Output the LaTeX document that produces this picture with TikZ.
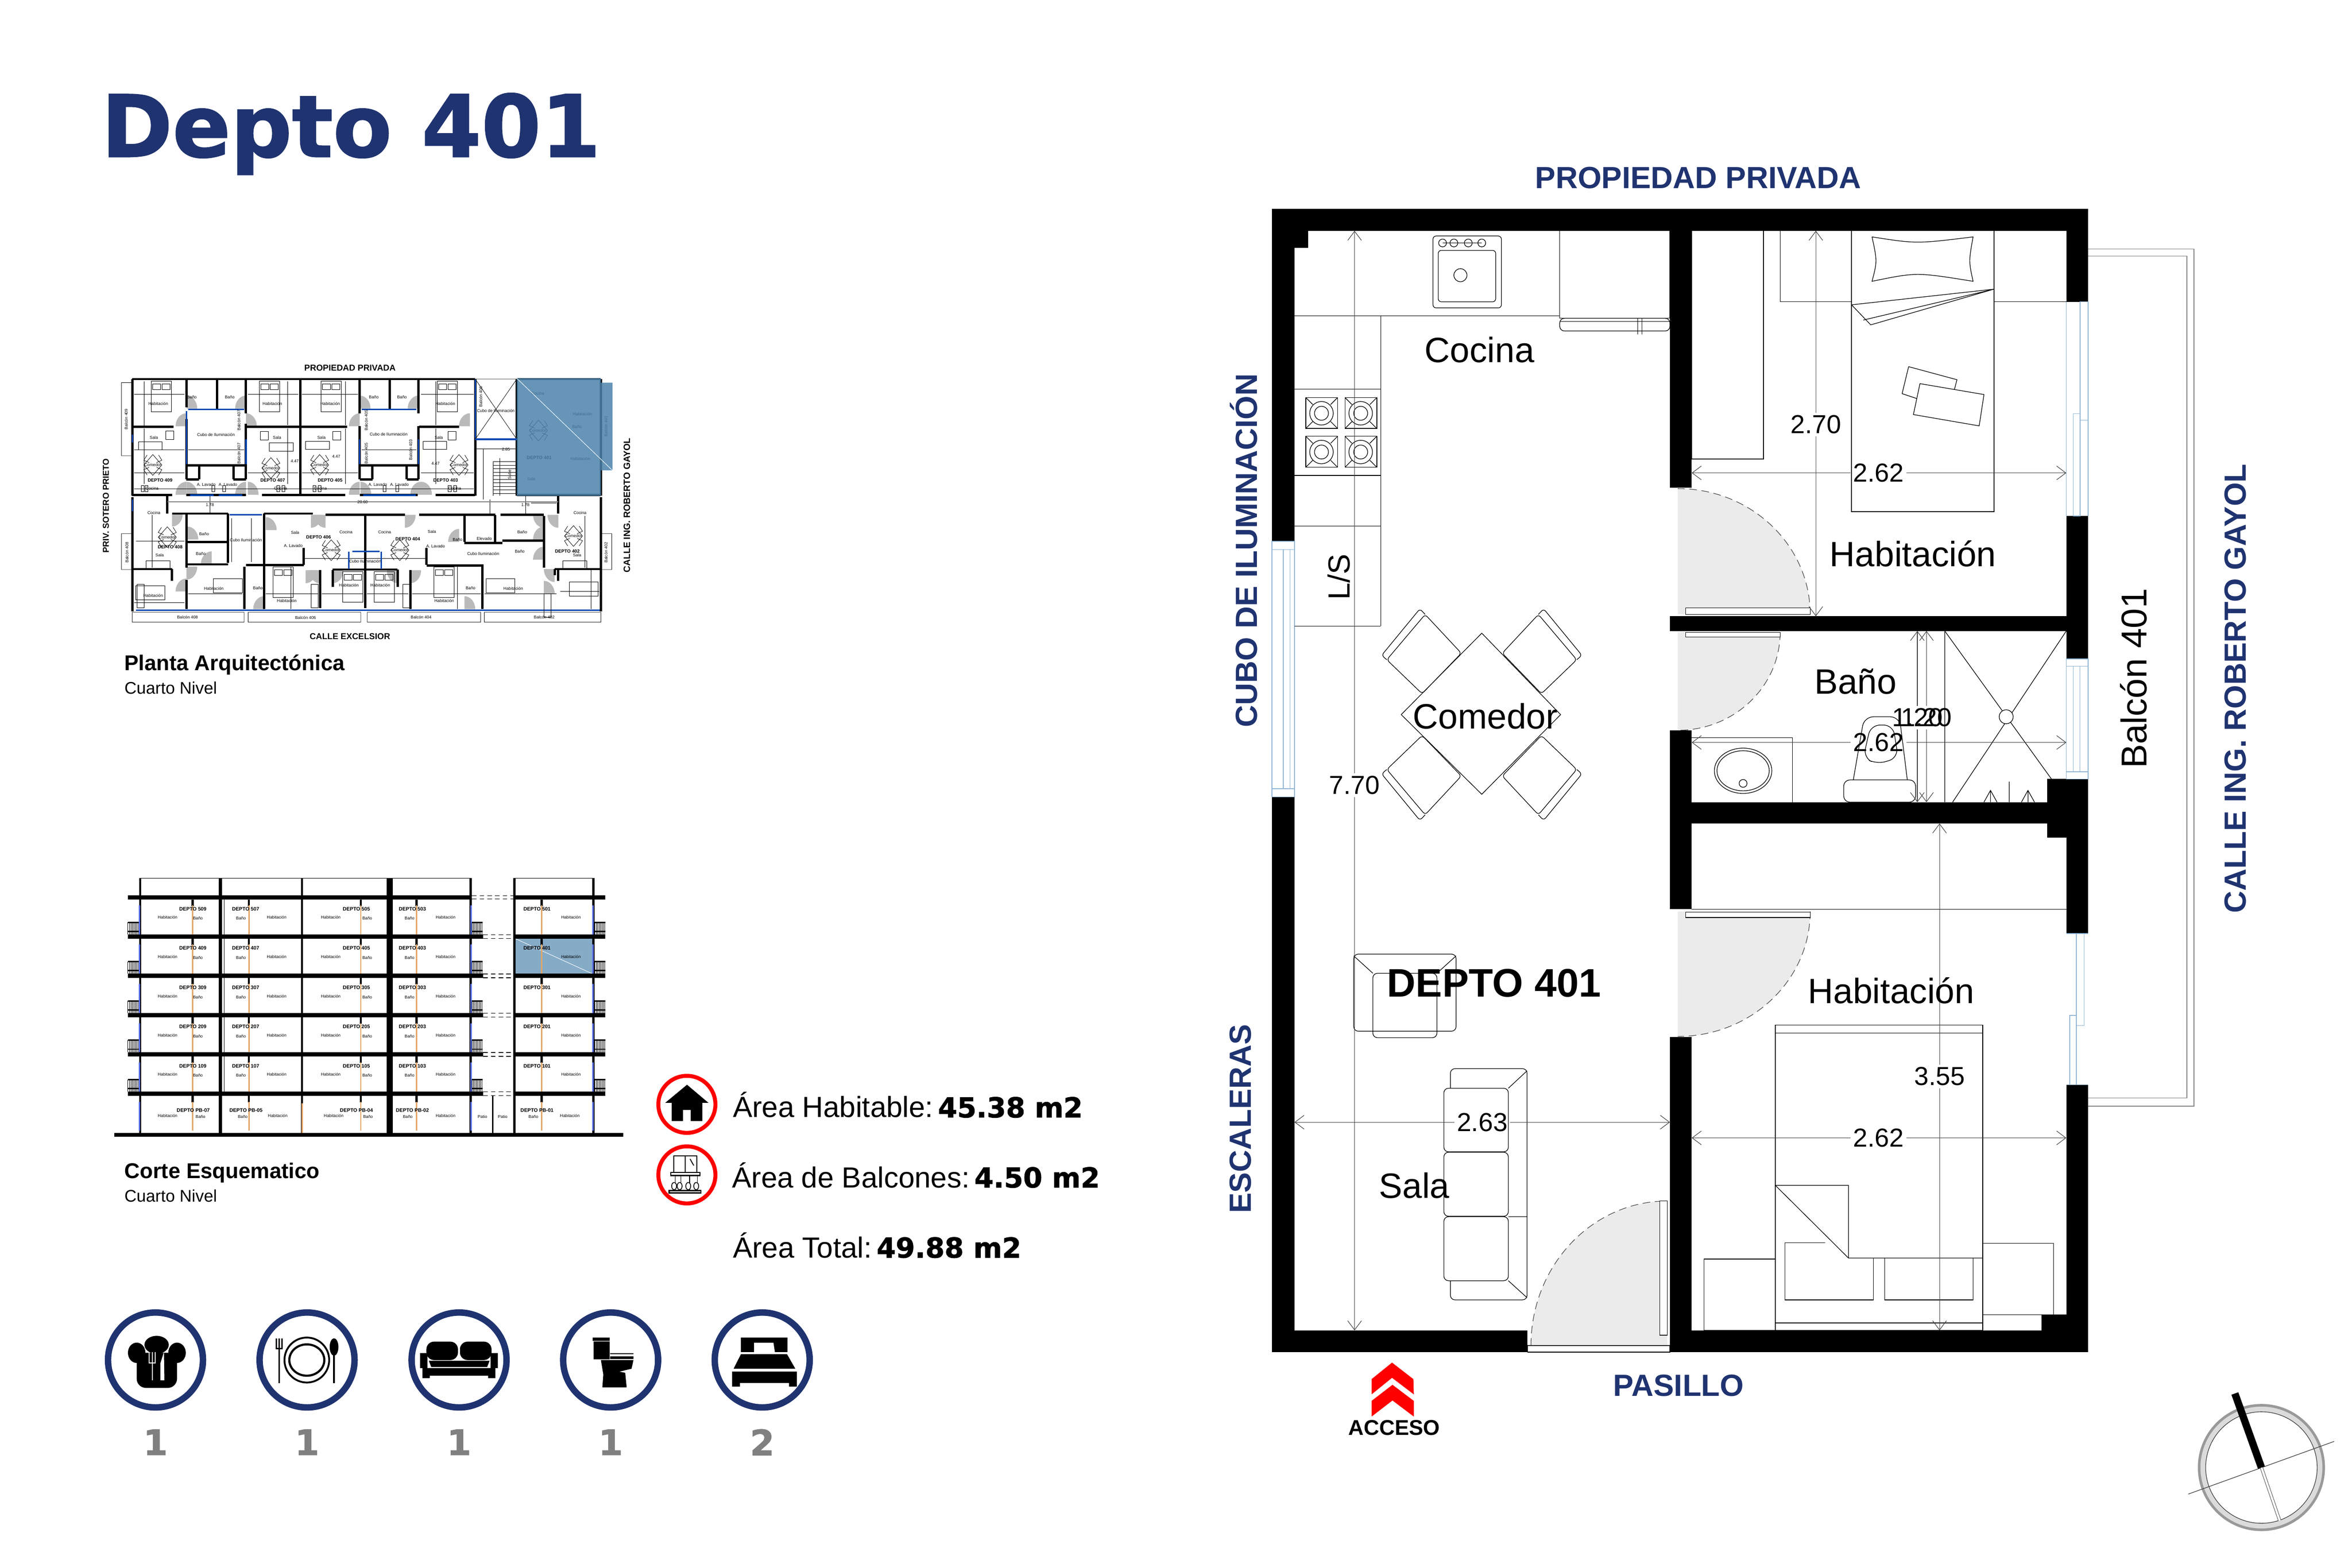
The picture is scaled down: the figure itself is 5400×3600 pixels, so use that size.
\documentclass[tikz,border=0pt]{standalone}
\usepackage{fontspec}
\setmainfont{Liberation Sans}
\newfontfamily\widefont[BoldFeatures={FakeBold=1.4}]{DejaVu Sans}
\usetikzlibrary{arrows.meta}
\definecolor{navy}{HTML}{1F3370}
\definecolor{glass}{HTML}{8DB4D6}
\definecolor{unitblue}{HTML}{4C83AB}
\tikzset{
  wall/.style={fill=black,draw=none},
  ln/.style={draw=black,line width=.4pt},
  win/.style={draw=glass,line width=.5pt,fill=white},
  swingfill/.style={fill=black!8,draw=none},
  swingarc/.style={draw=black!70,line width=.4pt,dash pattern=on 5pt off 3pt},
  dimline/.style={draw=black!75,line width=.35pt,>={Straight Barb[length=6pt,width=9pt]}},
  dimtxt/.style={font=\fontsize{17}{17}\selectfont,inner sep=1.5pt},
  roomtxt/.style={font=\fontsize{23}{23}\selectfont,inner sep=0pt},
  sidetxt/.style={font=\fontsize{20}{20}\selectfont\bfseries,text=navy,inner sep=0pt},
  areatxt/.style={font=\fontsize{19}{19}\selectfont,anchor=base west,inner sep=0pt},
  headtxt/.style={font=\fontsize{14}{14}\selectfont\bfseries,anchor=base west,inner sep=0pt},
  subtxt/.style={font=\fontsize{11}{11}\selectfont,anchor=base west,inner sep=0pt},
  minitxt/.style={font=\fontsize{2.7}{3}\selectfont,inner sep=0pt},
  minibold/.style={font=\fontsize{3.3}{4}\selectfont\bfseries,inner sep=0pt},
  miniside/.style={font=\fontsize{5.6}{6}\selectfont\bfseries,inner sep=0pt},
  miniwall/.style={draw=black,line width=1.5pt},
  miniglass/.style={draw=blue!60!cyan!70!black,line width=1pt},
  minifine/.style={draw=black,line width=.25pt},
  ring/.style={draw=navy,line width=4.2pt,fill=white},
  redring/.style={draw=red,line width=2.6pt,fill=white},
  countnum/.style={font=\widefont\fontsize{23}{23}\selectfont\bfseries,text=black!50,inner sep=0pt}
}
% dimension lines: name, from, to, fixed, label place, text
\newcommand\dimh[6]{\coordinate (#1a) at (#2,#4); \coordinate (#1b) at (#3,#4);
  \node[dimtxt] (#1) at (#5,#4) {#6};
  \draw[dimline,<-] (#1a)--(#1); \draw[dimline,->] (#1)--(#1b);}
\newcommand\dimv[6]{\coordinate (#1a) at (#4,#2); \coordinate (#1b) at (#4,#3);
  \node[dimtxt] (#1) at (#4,#5) {#6};
  \draw[dimline,<-] (#1a)--(#1); \draw[dimline,->] (#1)--(#1b);}
% door swing: hinge x, y, start angle, end angle, x radius, y radius
\newcommand\swing[6]{\fill[swingfill] (#1,#2)--++(#3:#5 and #6) arc[start angle=#3,end angle=#4,x radius=#5,y radius=#6]--cycle;
  \draw[swingarc] (#1,#2)++(#3:#5 and #6) arc[start angle=#3,end angle=#4,x radius=#5,y radius=#6];}
\newcommand\bignum[1]{\kern-4pt{\widefont\bfseries\fontsize{18}{18}\selectfont #1}}
\begin{document}
\begin{tikzpicture}[x=0.1mm,y=-0.1mm]
\useasboundingbox (0,0) rectangle (5400,3600);
\node[font=\widefont\fontsize{56}{56}\selectfont\bfseries,text=navy,anchor=base west,inner sep=0pt] (title) at (232,360) {Depto 401};

% --- floor plan: balcony
\draw[draw=black!50,line width=.4pt] (4794,572)--(5037,572)--(5037,2540)--(4794,2540)
  (4794,588)--(5021,588)--(5021,2521)--(4794,2521);
% door swings
\swing{3852}{1411}{0}{-90}{304}{289}
\swing{3852}{1452}{0}{90}{235}{225}
\swing{3852}{2093}{0}{90}{304}{287}
\swing{3828}{3090}{180}{270}{313}{332}
% outer and inner walls
\foreach \xa/\ya/\xb/\yb in {2920/480/4794/530, 2920/530/2972/1243, 2920/1830/2972/3105, 2972/530/3003/569,
  2920/3055/3507/3105, 3834/3055/4794/3105, 3834/530/3884/1120, 3834/1415/4744/1449, 3834/1677/3884/1891,
  3834/1842/4794/1891, 3834/1891/3884/2088, 3834/2381/3884/3055, 4744/530/4794/693, 4744/1185/4794/1513,
  4700/1789/4794/1842, 4700/1891/4794/1923, 4744/1923/4794/2144, 4744/2491/4794/3055, 4687/3019/4744/3055}
  \fill[wall] (\xa,\ya) rectangle (\xb,\yb);
% windows
\draw[win] (2920,1243) rectangle (2972,1830) (2920,1243) rectangle (2972,1262) (2920,1811) rectangle (2972,1830)
  (2946,1262)--(2946,1811) (2962,1262)--(2962,1811);
\draw[win] (4776,693) rectangle (4794,965) (4760,950) rectangle (4776,1185) (4744,693)--(4744,1185)
  (4794,965)--(4794,1185);
\draw[win] (4744,1513) rectangle (4794,1789) (4744,1513) rectangle (4794,1530) (4744,1772) rectangle (4794,1789)
  (4760,1530)--(4760,1772) (4775,1530)--(4775,1772);
\draw[win] (4767,2144) rectangle (4785,2355) (4752,2332) rectangle (4767,2491) (4744,2144)--(4794,2144) (4744,2491)--(4794,2491);
% door leaves
\draw[ln,fill=white] (3870,1396) rectangle (4156,1411) (3870,1452) rectangle (4087,1463) (3870,2095) rectangle (4156,2107)
  (3811,2758) rectangle (3828,3066) (3507,3090) rectangle (3834,3105);
% kitchen
\draw[ln] (2972,725)--(3581,725) (3170,725)--(3170,1438) (2972,894)--(3170,894) (2972,1092)--(3170,1092)
  (2972,1208)--(3170,1208) (2972,1438)--(3170,1438);
\draw[ln] (3581,530) rectangle (3834,731);
\draw[ln,rounded corners=3pt] (3581,731) rectangle (3834,760);
\draw[ln] (3581,738)--(3834,738) (3760,731)--(3760,768) (3770,731)--(3770,768);
\draw[ln,rounded corners=2pt] (3290,542) rectangle (3447,707) (3302,575) rectangle (3434,693);
\draw[ln] (3353,632) circle (15);
\foreach \x in {3312,3338,3371,3402} \draw[ln] (\x,558) circle (9);
\draw[ln] (3312,558)--(3402,558);
\foreach \x in {2998,3088} \foreach \y in {913,1002}{
  \draw[ln] (\x,\y) rectangle ++(73,71);
  \draw[ln] (\x+36,\y+36) circle (27) (\x+36,\y+36) circle (16);
  \draw[ln] (\x,\y)--++(16,16) (\x+73,\y)--++(-16,16) (\x,\y+71)--++(16,-16) (\x+73,\y+71)--++(-16,-16);
}
% dining table and chairs
\draw[ln] (3402,1454)--(3583,1641)--(3402,1824)--(3217,1641)--cycle;
\foreach \sx in {1,-1} \foreach \sy in {1,-1}
  \draw[ln,rounded corners=2pt,shift={(3402,1641)},xscale=\sx,yscale=\sy]
   (47,141)--(130,230)--(218,126)--(137,48)--cycle (130,230)--(142,243)--(230,136)--(218,126);
% armchair and sofa
\draw[ln,rounded corners=3pt] (3108,2191) rectangle (3343,2368) (3152,2235) rectangle (3299,2383);
\draw[ln] (3108,2195)--(3152,2235) (3343,2195)--(3299,2235);
\draw[ln,rounded corners=3pt] (3330,2454) rectangle (3506,2985);
\draw[ln,rounded corners=3pt,fill=white] (3315,2499) rectangle (3463,2645) (3315,2646) rectangle (3463,2793) (3315,2794) rectangle (3463,2941);
\draw[ln] (3506,2459)--(3463,2499) (3506,2980)--(3463,2941) (3463,2794)--(3506,2794);
% upper bedroom
\draw[ln] (3884,530) rectangle (4049,1054) (4251,530) rectangle (4578,1175) (4087,530)--(4087,693)--(4251,693) (4578,693)--(4744,693);
\draw[ln] (4298,544) .. controls (4400,560) .. (4530,544) .. controls (4520,600) .. (4530,646) .. controls (4400,625) .. (4298,646) .. controls (4310,600) .. (4298,544);
\draw[ln] (4578,664)--(4251,700)--(4295,746)--cycle (4278,735)--(4578,664);
\draw[ln] (4382,842)--(4493,872)--(4487,895) (4382,842)--(4367,904)--(4400,915);
\draw[ln] (4408,881)--(4555,906)--(4544,978)--(4393,952)--cycle;
% bath
\draw[ln] (3884,1694)--(4115,1694)--(4115,1842);
\draw[ln] (4002,1770) ellipse (66 and 52) (4002,1770) ellipse (60 and 46) (4002,1799) circle (9);
\draw[ln,rounded corners=4pt] (4233,1842) rectangle (4398,1791);
\draw[ln,rounded corners=6pt] (4255,1791)--(4280,1646)--(4361,1646)--(4379,1791);
\draw[ln,rounded corners=6pt] (4295,1665)--(4346,1665)--(4358,1740)--(4310,1755)--(4278,1740)--cycle;
\draw[ln] (4465,1449)--(4465,1842) (4465,1449)--(4710,1789) (4744,1449)--(4483,1842);
\draw[ln,fill=white] (4606,1646) circle (16);
\draw[ln] (4613,1842)--(4613,1795) (4570,1842)--(4570,1815) (4656,1842)--(4656,1815) (4555,1842)--(4570,1815)--(4585,1842) (4641,1842)--(4656,1815)--(4671,1842);
% lower bedroom
\draw[ln] (3884,2088)--(4744,2088);
\draw[ln] (4076,2354) rectangle (4552,3055) (4076,2372)--(4552,2372) (4076,3038)--(4552,3038);
\draw[ln] (4076,2722)--(4244,2722)--(4244,2889)--(4552,2889) (4076,2722)--(4244,2889);
\draw[ln] (4098,2854)--(4190,2854) (4098,2854)--(4098,2985)--(4301,2985)--(4301,2889) (4327,2889)--(4327,2985)--(4530,2985)--(4530,2889);
\draw[ln] (3912,2891) rectangle (4076,3055) (4552,2855) rectangle (4715,3019) (4552,3019)--(4552,3055);
% dimensions
\dimv{dimA}{530}{3055}{3110}{1803}{7.70}
\dimv{dimB}{530}{1415}{4169}{975}{2.70}
\dimh{dimC}{3884}{4744}{1086}{4313}{2.62}
\dimv{dimD}{1449}{1842}{4402}{1648}{1.20}
\dimv{dimE}{1449}{1842}{4423}{1648}{1.20}
\dimh{dimF}{3884}{4744}{1705}{4313}{2.62}
\dimh{dimG}{2972}{3834}{2577}{3403}{2.63}
\dimv{dimH}{1891}{3055}{4453}{2472}{3.55}
\dimh{dimI}{3884}{4744}{2613}{4313}{2.62}
% room names
\node[roomtxt] (cocina) at (3397,803) {Cocina};
\node[roomtxt] (hab1) at (4392,1272) {Habitación};
\node[roomtxt] (bano) at (4260,1565) {Baño};
\node[roomtxt] (comedor) at (3410,1645) {Comedor};
\node[roomtxt,font=\fontsize{20}{20}\selectfont,rotate=90] (ls) at (3074,1325) {L/S};
\node[roomtxt,font=\fontsize{23.5}{24}\selectfont,rotate=90] (balcon) at (4898,1558) {Balcón 401};
\node[roomtxt,font=\fontsize{26}{26}\selectfont\bfseries] (depto) at (3430,2258) {DEPTO 401};
\node[roomtxt] (hab2) at (4342,2275) {Habitación};
\node[roomtxt] (sala) at (3247,2722) {Sala};
% surroundings
\node[sidetxt] (prop) at (3899,408) {PROPIEDAD PRIVADA};
\node[sidetxt] (pasillo) at (3854,3182) {PASILLO};
\node[sidetxt,rotate=90] (cubo) at (2855,1264) {CUBO DE ILUMINACIÓN};
\node[sidetxt,rotate=90] (esc) at (2848,2569) {ESCALERAS};
\node[sidetxt,rotate=90] (gayol) at (5132,1581) {CALLE ING. ROBERTO GAYOL};
\fill[red] (3149,3167)--(3196,3129)--(3245,3167)--(3246,3202)--(3196,3164)--(3149,3202)--cycle
  (3149,3217)--(3197,3180)--(3246,3217)--(3246,3253)--(3197,3216)--(3149,3253)--cycle;
\node[font=\fontsize{14}{14}\selectfont\bfseries,inner sep=0pt] (acceso) at (3201,3279) {ACCESO};
% north mark
\coordinate (nc) at (5192,3370); \coordinate (ntop) at (5131,3200); \coordinate (nbot) at (5234,3492);
\coordinate (na) at (5024,3431); \coordinate (nb) at (5359,3310);
\draw[draw=black!40,line width=1.7pt,fill=black!14] (nc) circle (143);
\draw[draw=black!75,line width=.4pt,fill=white] (nc) circle (128);
\draw[draw=black!75,line width=.4pt] (na)--(nb);
\draw[draw=black!75,line width=2pt] (nc)--(nbot);
\draw[draw=white,line width=1.4pt] (nc)--(nbot);
\draw[line width=4.8pt] (ntop)--(nc);

% --- small plan of the level
\begin{scope}[shift={(200,800)},xscale=.829,yscale=.542]
\draw[minifine] (95,145) rectangle (125,455) (95,785) rectangle (125,937) (1423,785) rectangle (1453,937)
  (125,1118) rectangle (435,1160) (446,1118) rectangle (758,1160) (776,1118) rectangle (1090,1160) (1100,1118) rectangle (1423,1160)
  (1075,130) rectangle (1190,385) (1075,130)--(1190,385) (1190,130)--(1075,385);
% door swings
\foreach \x/\y/\a in {275/330/180,440/330/270,755/330/180,1060/330/180,275/255/270,440/255/180,755/255/270,918/255/180,
  275/620/180,275/620/270,440/620/180,445/620/270,755/620/180,757/620/270,925/620/180,925/620/270,
  235/700/0,278/810/270,345/915/180,275/925/0,275/1030/180,490/1105/180,495/770/270,620/705/0,645/940/90,
  660/705/90,880/705/0,680/940/0,860/940/90,895/940/0,1030/820/180,1045/1105/270,1265/810/180,1265/895/180,
  1265/705/90,1305/705/90,1265/1040/270,1295/935/90,605/940/0}
  \fill[black!27] (\x,\y)--++(\a:30 and 55) arc[start angle=\a,delta angle=90,x radius=30,y radius=55]--cycle;
% stairs
\foreach \y in {480,495,...,620} \draw[minifine] (1125,\y)--(1190,\y);
\draw[minifine] (1125,478)--(1125,625) (1143,465)--(1143,625) (1075,425)--(1190,425) (1097,425)--(1097,640) (1115,640)--(1115,700);
% fine dimension lines
\draw[minifine] (130,195)--(270,195) (445,195)--(585,195) (595,195)--(750,195) (925,195)--(1070,195) (130,430)--(270,430) (130,528)--(270,528)
  (445,528)--(585,528) (595,528)--(750,528) (925,528)--(1070,528) (130,595)--(1070,595) (280,430)--(435,430) (760,430)--(912,430)
  (158,140)--(158,330) (158,340)--(158,575) (555,140)--(555,325) (555,340)--(555,575) (715,140)--(715,325) (715,340)--(715,575) (965,140)--(965,325) (965,340)--(965,575)
  (340,620)--(340,700) (1214,620)--(1214,700) (1115,640)--(1115,705) (135,817)--(270,817) (130,1078)--(270,1078) (280,1040)--(430,1040) (495,1040)--(640,1040)
  (650,1040)--(765,1040) (775,1040)--(890,1040) (900,1040)--(1090,1040) (1100,1040)--(1300,1040) (1310,1030)--(1418,1030) (180,705)--(180,930) (1378,710)--(1378,930)
  (400,720)--(400,905) (455,720)--(455,905) (565,925)--(565,1105) (1025,925)--(1025,1105) (1395,940)--(1395,1105) (600,890)--(940,890) (1230,655)--(1300,655);
% walls
\draw[miniwall]
  (125,130)--(1075,130) (125,130)--(125,625) (275,130)--(275,250) (275,300)--(275,555) (360,130)--(360,255) (440,130)--(440,275) (440,320)--(440,555)
  (590,130)--(590,622) (755,130)--(755,275) (755,330)--(755,555) (838,130)--(838,255) (918,130)--(918,275) (918,330)--(918,555) (1075,130)--(1075,625)
  (1190,130)--(1190,625) (1423,130)--(1423,625) (1190,130)--(1423,130) (1190,622)--(1423,622)
  (125,333)--(240,333) (440,333)--(720,333) (920,333)--(1030,333) (275,495)--(440,495) (755,495)--(918,495)
  (310,495)--(310,555) (275,555)--(310,555) (405,495)--(405,555) (405,555)--(440,555) (755,555)--(790,555) (790,495)--(790,555) (885,495)--(885,555) (885,555)--(918,555)
  (125,622)--(235,622) (275,622)--(440,622) (485,622)--(715,622) (755,622)--(915,622) (965,622)--(1075,622)
  (125,630)--(125,1115) (1423,630)--(1423,1115) (222,625)--(222,700) (1305,625)--(1305,700)
  (235,700)--(390,700) (490,700)--(625,700) (660,705)--(880,705) (920,705)--(1130,705) (1145,705)--(1265,705)
  (275,700)--(275,930) (390,700)--(390,910) (490,700)--(490,1105) (770,705)--(770,1100) (1045,705)--(1045,820) (1130,705)--(1130,825) (1265,710)--(1265,930)
  (275,820)--(390,820) (125,935)--(235,935) (275,915)--(390,915) (440,918)--(600,918) (680,937)--(860,937) (940,920)--(1095,920) (1045,825)--(1150,825)
  (1150,815)--(1265,815) (1295,935)--(1423,935) (600,845)--(600,918) (940,845)--(940,918) (1095,915)--(1095,1105) (1305,935)--(1305,985) (1295,935)--(1295,960)
  (235,935)--(235,985) (275,980)--(275,1105) (435,925)--(435,1105) (680,940)--(680,1010) (860,937)--(860,1010) (895,940)--(895,1105) (645,940)--(645,1100);
\draw[miniglass] (280,258)--(360,258) (360,258)--(435,258) (760,258)--(912,258) (285,622)--(350,622) (365,622)--(430,622) (765,622)--(910,622)
  (125,365)--(125,400) (125,640)--(125,690) (395,705)--(485,705) (135,1110)--(1420,1110) (275,265)--(275,490) (440,385)--(440,490) (755,385)--(755,490) (918,385)--(918,490)
  (735,860)--(810,860) (725,862)--(725,935) (815,862)--(815,935) (1075,385)--(1190,385) (1075,133)--(1075,380);
\draw[miniwall,draw=black!50,line width=.5pt] (222,650)--(1305,650);
% furniture
\foreach \x/\y in {182/494,509/507,644/494,1030/494,222/800,676/855,866/855,1347/795,1250/348}{
  \draw[minifine] (\x,\y-44)--(\x+25,\y)--(\x,\y+44)--(\x-25,\y)--cycle;
  \draw[minifine] (\x-16,\y-42)--(\x-25,\y-20)--(\x-10,\y-10) (\x+16,\y-42)--(\x+25,\y-20)--(\x+10,\y-10)
    (\x-16,\y+42)--(\x-25,\y+20)--(\x-10,\y+10) (\x+16,\y+42)--(\x+25,\y+20)--(\x+10,\y+10);
}
\foreach \x/\y in {177/138,477/138,648/138,970/138,515/925,708/945,795/945,960/925}
  \draw[minifine] (\x,\y) rectangle ++(56,130) (\x+4,\y+12) rectangle ++(22,25) (\x+30,\y+12) rectangle ++(22,25);
\foreach \x/\y in {350/975,1105/975,1335/990,135/1005}
  \draw[minifine] (\x,\y) rectangle ++(80,60);
\foreach \x/\y in {142/395,505/400,605/393,930/393,1318/900,163/900}
  \draw[minifine] (\x,\y) rectangle ++(66,35);
\foreach \x/\y in {218/350,480/352,680/352,1000/352}
  \draw[minifine] (\x,\y) rectangle ++(22,35);
\foreach \x/\y in {138/1000,620/1000,875/1000,1265/1040}
  \draw[minifine] (\x,\y) rectangle ++(20,100);
\foreach \x in {150,160,525,540,625,640,1000,1015,345,375,820,855}
  \draw[minifine] (\x,582) rectangle ++(8,25);
% labels
\foreach \x/\y/\t [count=\n] in {
  197/234/Habitación,513/234/Habitación,673/234/Habitación,992/234/Habitación,183/1047/Habitación,351/1018/Habitación,
  553/1069/Habitación,725/1003/Habitación,812/1003/Habitación,989/1069/Habitación,1180/1018/Habitación,1366/468/Habitación,1372/278/Habitación,
  185/377/Sala,526/377/Sala,649/377/Sala,974/377/Sala,201/876/Sala,576/780/Sala,955/776/Sala,1357/876/Sala,1230/553/Sala,
  182/494/Comedor,509/507/Comedor,644/494/Comedor,1030/494/Comedor,222/800/Comedor,676/855/Comedor,866/855/Comedor,1347/795/Comedor,1248/348/Comedor,
  1248/190/Cocina,185/697/Cocina,717/778/Cocina,824/778/Cocina,1365/697/Cocina,180/594/Cocina,536/594/Cocina,646/594/Cocina,1018/594/Cocina,
  290/206/Baño,395/206/Baño,794/206/Baño,872/206/Baño,324/787/Baño,315/870/Baño,1205/779/Baño,1198/861/Baño,1026/811/Baño,473/1016/Baño,1062/1016/Baño,1357/333/Baño,
  357/365/Cubo de Iluminación,835/364/Cubo de Iluminación,1132/264/Cubo de Iluminación,440/813/Cubo Iluminación,770/902/Cubo Iluminación,1097/870/Cubo Iluminación,
  330/577/A. Lavado,390/577/A. Lavado,805/577/A. Lavado,865/577/A. Lavado,571/837/A. Lavado,965/839/A. Lavado,
  278/1138/Balcón 408,605/1140/Balcón 406,925/1138/Balcón 404,1266/1138/Balcón 402,1100/806/Elevado,
  763/652/20.60,340/663/1.78,1214/663/1.78,575/477/4.47,690/458/4.47,965/488/4.47,1160/427/2.85}
  \node[minitxt] (pl\n) at (\x,\y) {\t};
\foreach \x/\y/\t [count=\n] in {108/300/Balcón 409,110/865/Balcón 408,1437/865/Balcón 402,1437/330/Balcón 401,1090/205/Balcón 406,
  420/305/Balcón 407,420/445/Balcón 407,773/305/Balcón 405,773/445/Balcón 405,896/430/Balcón 403,1170/535/Sube}
  \node[minitxt,rotate=90] (pv\n) at (\x,\y) {\t};
\foreach \x/\y/\t [count=\n] in {202/558/409,514/558/407,673/558/405,993/558/403,641/800/406,888/807/404,230/842/408,1330/860/402,1252/463/401}
  \node[minitxt,font=\fontsize{3}{3}\selectfont\bfseries] (pd\n) at (\x,\y) {DEPTO \t};
% selected unit
\fill[unitblue,fill opacity=.85] (1190,127) rectangle (1423,625) (1423,145) rectangle (1455,517);
\draw[white,line width=.3pt] (1190,127)--(1455,517);
\node[miniside] (mprop) at (728,82) {PROPIEDAD PRIVADA};
\node[miniside] (mcalle) at (728,1220) {CALLE EXCELSIOR};
\node[miniside,rotate=90] (msot) at (52,667) {PRIV. SOTERO PRIETO};
\node[miniside,rotate=90,font=\fontsize{6}{6}\selectfont\bfseries] (mgay) at (1495,665) {CALLE ING. ROBERTO GAYOL};
\end{scope}
\node[headtxt] (planta) at (285,1540) {Planta Arquitectónica};
\node[subtxt] (nivelA) at (285,1594) {Cuarto Nivel};

% --- section
\begin{scope}[shift={(200,1980)},xscale=.829,yscale=.542]
\fill[unitblue!80,fill opacity=.85] (1185,323) rectangle (1400,473);
\draw[white,line width=.3pt] (1185,323)--(1400,473);
\draw[line width=.5pt] (147,68)--(1062,68) (1183,68)--(1402,68);
\fill (75,1148) rectangle (1485,1162);
\fill (113,140) rectangle (1062,158) (1185,140) rectangle (1435,158);
\foreach \y in {315,481,648,814,981}{
  \fill (113,\y-9) rectangle (1097,\y+9) (1185,\y-9) rectangle (1435,\y+9);
  \draw[densely dashed,line width=.5pt] (1097,\y-8)--(1180,\y-8) (1097,\y+8)--(1180,\y+8);
  \foreach \x in {113,1062,1402}{
    \foreach \k in {0,4,...,32} \draw[line width=.3pt] (\x+\k,\y-60)--(\x+\k,\y-9);
    \draw[line width=.8pt] (\x,\y-60)--(\x+33,\y-60) (\x,\y-22)--(\x+33,\y-22);
  }
}
\draw[densely dashed,line width=.5pt] (1066,142)--(1180,142) (1066,156)--(1180,156);
\foreach \x/\w in {147/6,369/10,595/6,838/16,1062/6,1183/6,1402/6}
  \fill (\x-\w/2,68) rectangle (\x+\w/2,1148);
\fill (1121,990) rectangle (1126,1148);
\draw[line width=.3pt] (380,158)--(380,973);
\foreach \y in {158,324,490,657,823,990}{
  \foreach \x in {292,448,758,912,1259}{
    \fill (\x-3,\y) rectangle (\x+3,\y+28);
    \draw[draw=brown!60!orange!70,line width=.9pt] (\x,\y+25)--(\x,\y+148);
  }
  \draw[draw=glass!60!blue,line width=.9pt] (145,\y+25)--(145,\y+148) (1063,\y+25)--(1063,\y+148) (1401,\y+25)--(1401,\y+148);
}
\draw[draw=brown!60!orange!70,line width=.9pt] (596,1022)--(596,1148);
\foreach \f/\d in {5/0,4/166,3/333,2/499,1/665}{
  \foreach \u/\x in {09/293,07/439,05/746,03/901,01/1246}
    \node[minibold] (dp\f\u) at (\x,198+\d) {DEPTO \f\u};
  \foreach \x [count=\n] in {223,525,675,993,1340}
    \node[minitxt] (hb\f\n) at (\x,234+\d) {Habitación};
  \foreach \x [count=\n] in {307,426,776,893}
    \node[minitxt] (bn\f\n) at (\x,238+\d) {Baño};
}
\foreach \u/\x in {07/294,05/440,04/746,02/901,01/1246}
  \node[minibold] (dpb\u) at (\x,1052) {DEPTO PB-\u};
\foreach \x [count=\n] in {223,528,683,993,1337}
  \node[minitxt] (hbb\n) at (\x,1073) {Habitación};
\foreach \x [count=\n] in {314,431,778,888,1236}
  \node[minitxt] (bnb\n) at (\x,1079) {Baño};
\node[minitxt] (patA) at (1095,1079) {Patio};
\node[minitxt] (patB) at (1151,1079) {Patio};
\end{scope}
\node[headtxt] (corte) at (285,2706) {Corte Esquematico};
\node[subtxt] (nivelB) at (285,2760) {Cuarto Nivel};

% --- areas
\draw[redring] (1577,2536) circle (65.5) (1577,2698) circle (65.5);
\begin{scope}[shift={(1480,2440)},xscale=.705,yscale=.333]
\fill (138,153)--(208,278)--(188,278)--(188,403)--(150,403)--(150,327)--(125,327)--(125,403)--(88,403)--(88,278)--(67,278)--cycle;
\draw[line width=.6pt] (95,643) rectangle (170,758) (132,643)--(132,758) (148,665)--(160,710);
\draw[line width=.8pt] (85,758) rectangle (180,780) (80,882) rectangle (183,900);
\foreach \x in {100,118,146,172}{
  \draw[line width=.5pt] (\x,780)--(\x,882);
  \draw[line width=.5pt,fill=white] (\x-4,852) ellipse (8 and 25);
}
\end{scope}
\node[areatxt] (hab) at (1682,2566) {Área Habitable: \bignum{45.38 m2}};
\node[areatxt] (bal) at (1680,2727) {Área de Balcones: \bignum{4.50 m2}};
\node[areatxt] (tot) at (1682,2888) {Área Total: \bignum{49.88 m2}};

% --- room counts
\foreach \x/\t [count=\n] in {357/1,705/1,1054/1,1402/1,1750/2}{
  \draw[ring] (\x,3123) circle (109);
  \node[countnum] (cnt\n) at (\x,3312) {\t};
}
\begin{scope}[shift={(200,2950)},xscale=1.116,yscale=.333]
% kitchen
\fill (143,415) ellipse (25 and 62) (102,470) ellipse (18 and 70) (185,470) ellipse (18 and 70);
\fill[rounded corners=6pt] (102,470) rectangle (185,712);
\draw[white,line width=.6pt] (134,465)--(134,660) (128,465)--(128,540)--(140,540)--(140,465);
\fill[white] (151,660)--(151,540)--(158,465)--(159,660)--cycle;
% dining
\draw[line width=1pt] (395,370)--(395,680) (389,370)--(389,440)--(401,440)--(401,370);
\draw[line width=1.2pt] (452,520) ellipse (46 and 155);
\draw[line width=1.4pt] (452,520) ellipse (36 and 108);
\fill (508,430) ellipse (9 and 60);
\draw[line width=1pt] (508,480)--(508,680);
% living
\fill[rounded corners=5pt] (698,393) rectangle (763,520) (767,393) rectangle (832,520);
\fill (703,525)--(828,525)--(823,568)--(708,568)--cycle (690,575) rectangle (840,628)
  (685,472) rectangle (700,575) (830,472) rectangle (845,575) (690,628) rectangle (705,645) (825,628) rectangle (840,645);
% bath
\fill (1040,365) rectangle (1075,388) (1042,392) rectangle (1075,515) (1076,473) rectangle (1124,480) (1076,495) rectangle (1124,513)
  (1057,520)--(1124,520)--(1120,580)--(1095,600)--(1107,608)--(1110,708)--(1060,708)--(1062,620)--cycle;
% bed
\fill (1345,365)--(1441,365)--(1441,465)--(1415,465)--(1412,400)--(1372,400)--(1372,465)--(1345,465)--cycle
  (1345,480)--(1440,480)--(1457,580)--(1330,580)--cycle (1327,600) rectangle (1460,678)
  (1327,678) rectangle (1343,703) (1444,678) rectangle (1460,703);
\end{scope}
\end{tikzpicture}
\end{document}
